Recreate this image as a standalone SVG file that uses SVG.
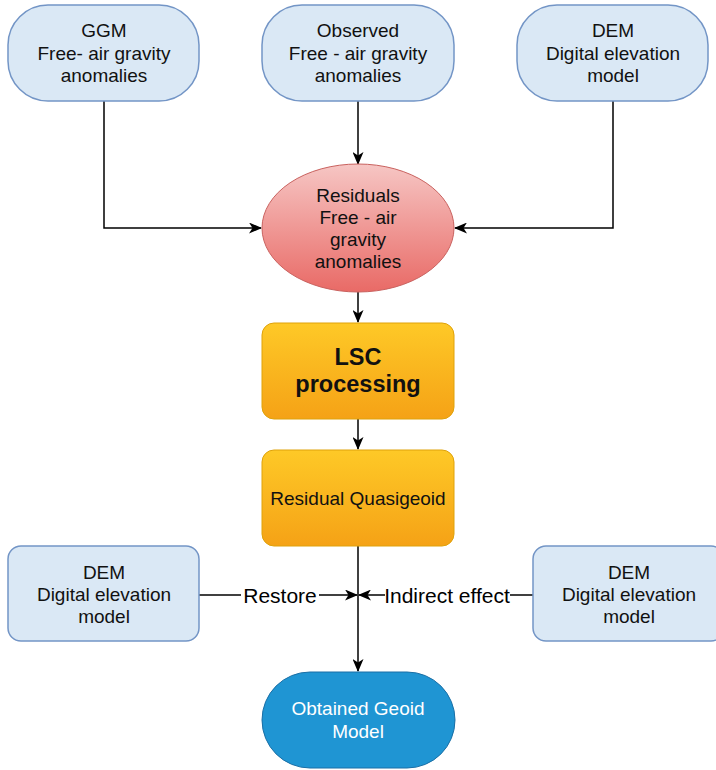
<svg xmlns="http://www.w3.org/2000/svg" width="716" height="770" viewBox="0 0 716 770">
<defs>
<linearGradient id="gRed" x1="0" y1="0" x2="0" y2="1"><stop offset="0" stop-color="#f6c6c4"/><stop offset="1" stop-color="#e96a66"/></linearGradient>
<linearGradient id="gOr" x1="0" y1="0" x2="0" y2="1"><stop offset="0" stop-color="#fec927"/><stop offset="1" stop-color="#f5a216"/></linearGradient>
<marker id="ah" viewBox="0 0 13 11" refX="12" refY="5.5" markerWidth="13" markerHeight="11" markerUnits="userSpaceOnUse" orient="auto"><path d="M0,0 L13,5.5 L0,11 L3.5,5.5 Z" fill="#000"/></marker>
<style>
.blue{fill:#dae8f5;stroke:#7395c6;stroke-width:1.5}
.or{fill:url(#gOr);stroke:#dfa20a;stroke-width:1}
.t{font-family:"Liberation Sans",Arial,sans-serif;font-size:19px;fill:#111;text-anchor:middle}
.b{font-weight:bold;font-size:23.5px}
.w{fill:#fff}
.lbl{font-family:"Liberation Sans",Arial,sans-serif;font-size:21px;fill:#000;text-anchor:middle}
.c{fill:none;stroke:#000;stroke-width:1.5}
</style>
</defs>
<g id="connectors">
<path class="c" d="M104,101 V228 H261" marker-end="url(#ah)"/>
<path class="c" d="M358,101 V164" marker-end="url(#ah)"/>
<path class="c" d="M613,101 V228 H455" marker-end="url(#ah)"/>
<path class="c" d="M358,292 V322" marker-end="url(#ah)"/>
<path class="c" d="M358,419 V449" marker-end="url(#ah)"/>
<path class="c" d="M358,546 V671" marker-end="url(#ah)"/>
<path class="c" d="M199,595 H357" marker-end="url(#ah)"/>
<path class="c" d="M533,595 H359" marker-end="url(#ah)"/>
<rect x="241" y="580" width="78" height="28" fill="#fff"/>
<text class="lbl" x="280" y="603">Restore</text>
<rect x="385" y="580" width="125" height="28" fill="#fff"/>
<text class="lbl" x="447" y="603">Indirect effect</text>
</g>
<g id="ggm">
<rect class="blue" x="8" y="5" width="191" height="96" rx="40"/>
<text class="t" x="104" y="37">GGM</text>
<text class="t" x="104" y="60">Free- air gravity</text>
<text class="t" x="104" y="82">anomalies</text>
</g>
<g id="observed">
<rect class="blue" x="262" y="5" width="192" height="96" rx="40"/>
<text class="t" x="358" y="37">Observed</text>
<text class="t" x="358" y="60">Free - air gravity</text>
<text class="t" x="358" y="82">anomalies</text>
</g>
<g id="dem-top">
<rect class="blue" x="517" y="5" width="191" height="96" rx="40"/>
<text class="t" x="613" y="37">DEM</text>
<text class="t" x="613" y="60">Digital elevation</text>
<text class="t" x="613" y="82">model</text>
</g>
<g id="residuals">
<ellipse cx="358" cy="228" rx="96" ry="64" fill="url(#gRed)" stroke="#c9625f" stroke-width="1"/>
<text class="t" x="358" y="202">Residuals</text>
<text class="t" x="358" y="224">Free - air</text>
<text class="t" x="358" y="246">gravity</text>
<text class="t" x="358" y="268">anomalies</text>
</g>
<g id="lsc">
<rect class="or" x="262" y="323" width="192" height="96" rx="12"/>
<text class="t b" x="358" y="365">LSC</text>
<text class="t b" x="358" y="392">processing</text>
</g>
<g id="quasigeoid">
<rect class="or" x="262" y="450" width="192" height="96" rx="12"/>
<text class="t" x="358" y="505">Residual Quasigeoid</text>
</g>
<g id="dem-left">
<rect class="blue" x="8" y="546" width="191" height="95" rx="13"/>
<text class="t" x="104" y="579">DEM</text>
<text class="t" x="104" y="601">Digital elevation</text>
<text class="t" x="104" y="623">model</text>
</g>
<g id="dem-right">
<rect class="blue" x="533" y="546" width="191" height="95" rx="13"/>
<text class="t" x="629" y="579">DEM</text>
<text class="t" x="629" y="601">Digital elevation</text>
<text class="t" x="629" y="623">model</text>
</g>
<g id="geoid">
<rect x="262" y="672" width="193" height="96" rx="48" fill="#1f95d3" stroke="#1a6fa6" stroke-width="1"/>
<text class="t w" x="358" y="715">Obtained Geoid</text>
<text class="t w" x="358" y="738">Model</text>
</g>
</svg>
